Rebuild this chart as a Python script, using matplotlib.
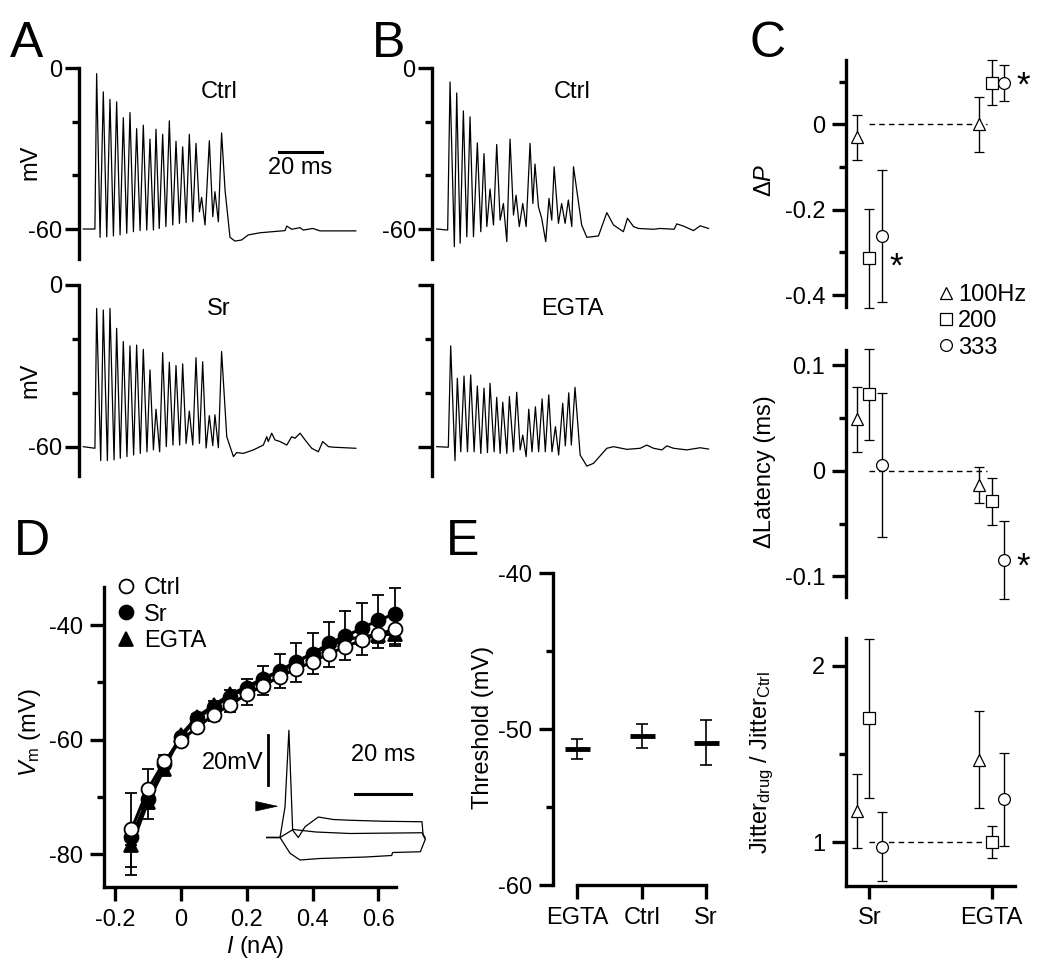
import matplotlib
matplotlib.use("Agg")
import matplotlib.pyplot as plt
from matplotlib.lines import Line2D
import numpy as np

plt.rcParams["font.family"] = ["Liberation Sans", "DejaVu Sans"]
plt.rcParams["mathtext.fontset"] = "custom"
plt.rcParams["mathtext.rm"] = "Liberation Sans"
plt.rcParams["mathtext.it"] = "Liberation Sans:italic"
plt.rcParams["axes.unicode_minus"] = False
plt.rcParams["font.size"] = 17

W, H = 1050, 975
FS = 17

# ---- A / B : spike trains (time ms, membrane potential mV)
a_ctrl_t = [0, 5.4, 6.2, 7.8, 9.3, 10.9, 12.4, 14.0, 15.5, 17.1, 18.6, 20.2, 21.7, 23.3, 24.8, 26.4,
            27.9, 29.5, 31.0, 32.6, 33.8, 35.3, 36.9, 38.4, 40.0, 41.6, 43.1, 44.7, 46.2, 47.8, 49.3,
            50.9, 52.4, 54.0, 55.0, 56.6, 58.6, 60.2, 61.2, 62.8, 64.3, 65.9, 68.2, 70.5, 73.6, 76.7,
            82.2, 93.8, 94.6, 96.9, 100.8, 102.3, 106.7, 110.1, 126.7]
a_ctrl_v = [-60.0, -60.0, -2.1, -63.1, -8.9, -62.9, -11.7, -62.6, -12.6, -62.2, -18.5, -61.6, -16.6,
            -61.0, -22.6, -60.6, -21.3, -60.4, -26.5, -60.4, -22.8, -59.8, -24.7, -59.1, -19.7, -58.5,
            -27.3, -57.9, -29.4, -57.6, -24.7, -57.3, -28.1, -53.6, -48.2, -58.5, -27.1, -55.4, -46.1,
            -57.3, -24.2, -45.5, -63.1, -64.5, -64.1, -62.2, -61.4, -60.6, -58.9, -60.1, -59.5, -60.4,
            -59.8, -60.7, -60.7]

a_sr_t = [0, 5.4, 6.2, 8.1, 9.3, 11.2, 12.4, 14.3, 15.5, 17.2, 18.6, 20.3, 21.7, 23.4, 24.8, 26.5,
          27.9, 29.6, 31.0, 32.6, 33.8, 35.5, 36.9, 38.6, 40.0, 41.7, 43.1, 44.8, 46.2, 47.8, 49.3,
          50.9, 52.4, 54.0, 55.5, 57.1, 58.6, 60.2, 61.2, 62.8, 64.3, 66.7, 69.8, 71.3, 74.4, 79.1,
          82.2, 83.7, 85.3, 86.0, 87.6, 89.1, 91.5, 94.6, 96.9, 98.4, 100.8, 103.1, 106.2, 109.3,
          111.3, 114.0, 116.3, 126.7]
a_sr_v = [-60.0, -60.6, -8.7, -65.2, -9.3, -65.2, -8.7, -64.9, -16.1, -64.3, -21.0, -63.7, -22.6,
          -63.1, -22.3, -62.5, -23.9, -61.9, -31.5, -61.2, -46.1, -61.9, -25.1, -60.0, -28.7, -59.4,
          -29.9, -59.4, -29.3, -58.8, -46.8, -59.4, -27.0, -58.8, -28.5, -60.5, -48.5, -59.6, -48.2,
          -60.4, -24.7, -56.3, -63.7, -62.2, -62.5, -61.2, -60.0, -59.4, -56.3, -58.1, -55.0, -57.5,
          -58.1, -59.4, -56.3, -56.9, -55.0, -57.5, -60.6, -61.9, -58.1, -60.0, -60.2, -60.6]

b_ctrl_t = [0, 5.1, 6.2, 8.2, 9.3, 10.9, 12.4, 14.0, 15.5, 17.1, 18.9, 20.5, 22.0, 23.3, 24.8, 26.4,
            27.9, 29.5, 31.0, 32.6, 34.1, 35.7, 36.9, 38.4, 40.0, 41.6, 43.4, 44.7, 45.7, 47.3, 48.8,
            50.7, 52.2, 53.5, 54.6, 56.6, 58.1, 59.7, 61.2, 62.8, 63.6, 67.4, 69.8, 75.2, 79.1, 82.2,
            86.8, 88.7, 91.5, 93.8, 100.8, 103.9, 110.4, 111.6, 114.7, 119.4, 122.5, 126.4]
b_ctrl_v = [-60.0, -60.4, -5.2, -66.6, -9.3, -65.3, -16.0, -62.9, -18.2, -62.9, -27.9, -61.0, -31.9,
            -59.1, -45.1, -58.5, -28.5, -56.7, -50.5, -64.7, -26.5, -54.8, -47.4, -59.1, -50.5, -59.1,
            -28.1, -50.5, -35.8, -51.7, -56.0, -64.7, -48.6, -56.7, -36.8, -57.9, -50.5, -57.9, -49.2,
            -59.1, -36.8, -58.5, -63.1, -62.6, -53.9, -58.5, -61.0, -56.0, -59.1, -59.8, -60.1, -59.8,
            -60.1, -58.1, -58.9, -60.6, -58.8, -59.8]

b_egta_t = [0, 5.4, 6.5, 8.5, 9.6, 11.2, 12.7, 14.3, 15.8, 17.4, 18.9, 20.5, 22.0, 23.6, 24.8, 26.7,
            27.9, 29.5, 30.7, 32.6, 33.8, 35.7, 37.2, 38.8, 40.0, 41.6, 42.8, 44.3, 45.9, 47.4, 49.0,
            50.5, 52.1, 53.6, 55.2, 56.7, 58.6, 59.8, 61.4, 62.6, 64.3, 66.7, 69.8, 72.9, 79.1, 82.2,
            88.4, 94.6, 97.7, 100.8, 104.7, 107.0, 110.1, 116.3, 122.5, 126.4]
b_egta_v = [-60.0, -60.2, -22.6, -65.2, -34.6, -61.9, -33.8, -61.9, -33.4, -61.9, -37.5, -62.5, -38.3,
            -62.2, -36.5, -61.9, -41.7, -62.5, -43.5, -62.5, -41.4, -61.9, -39.8, -61.2, -55.7, -63.7,
            -46.1, -61.9, -45.2, -61.9, -42.3, -61.9, -40.8, -61.9, -52.6, -63.1, -43.9, -59.7, -40.0,
            -59.4, -38.0, -63.1, -67.2, -66.2, -60.6, -60.0, -61.0, -60.6, -59.4, -60.6, -61.2, -59.7,
            -60.6, -61.2, -60.4, -60.9]

# ---- C : changes relative to control, [Sr, EGTA]
c_groups = ["Sr", "EGTA"]
freq_labels = ["100Hz", "200", "333"]
dp_100, dp_100_err = [-0.030, 0.000], [0.053, 0.064]
dp_200, dp_200_err = [-0.314, 0.098], [0.115, 0.053]
dp_333, dp_333_err = [-0.261, 0.098], [0.155, 0.042]
lat_100, lat_100_err = [0.0486, -0.0137], [0.031, 0.017]
lat_200, lat_200_err = [0.0725, -0.0290], [0.043, 0.022]
lat_333, lat_333_err = [0.0054, -0.0847], [0.068, 0.037]
jit_100, jit_100_err = [1.179, 1.466], [0.210, 0.275]
jit_200, jit_200_err = [1.702, 1.000], [0.450, 0.092]
jit_333, jit_333_err = [0.975, 1.243], [0.197, 0.265]

# ---- D : V-I relation
d_current = [-0.15, -0.10, -0.05, 0.00, 0.05, 0.10, 0.15, 0.20, 0.25, 0.30, 0.35, 0.40, 0.45, 0.50,
             0.55, 0.60, 0.65]
d_ctrl = [-75.7, -68.7, -63.8, -60.2, -57.8, -55.7, -53.9, -52.1, -50.6, -49.0, -47.7, -46.4, -45.0,
          -43.8, -42.6, -41.6, -40.7]
d_ctrl_err = [6.5, 3.5, 1.0, 0.5, 0.8, 1.0, 1.3, 1.8, 1.7, 2.0, 2.2, 2.2, 2.3, 2.3, 2.6, 2.4, 3.0]
d_sr = [-77.0, -70.3, -64.2, -59.5, -56.3, -54.3, -52.5, -51.0, -49.5, -48.0, -46.4, -45.0, -43.2,
        -41.9, -40.6, -39.1, -38.1]
d_sr_err = [7.7, 5.1, 1.5, 0.5, 0.8, 1.0, 1.2, 1.5, 2.4, 2.9, 3.3, 3.6, 3.8, 4.3, 4.5, 4.4, 4.6]
d_egta = [-78.5, -70.9, -65.1, -59.2, -56.0, -54.0, -52.1, -50.8, -49.3, -48.0, -46.4, -45.0, -43.6,
          -42.6, -42.0, -41.7, -41.6]
d_egta_err = [5.2, 2.9, 0.8, 0.5, 0.6, 0.8, 1.0, 1.0, 1.2, 1.3, 1.3, 1.4, 1.5, 1.5, 1.5, 1.5, 1.7]

# inset: three voltage responses (ms, mV relative to rest)
ins_spike_t = [0, 4.8, 6.6, 8.0, 9.35, 11.4, 13.8, 18.6, 23.9, 30.0, 41.8, 55.9, 56.3, 57.0]
ins_spike_v = [0, 0, 12.2, 42.9, 2.9, 0, 4.3, 8.2, 7.2, 6.9, 6.5, 6.3, 0.9, -0.5]
ins_sub_t = [0, 4.8, 9.5, 17.7, 30.0, 55.9, 57.0]
ins_sub_v = [0, 0, 3.2, 2.2, 1.6, 1.9, 0]
ins_hyp_t = [0, 4.8, 8.4, 12.0, 19.2, 35.7, 45.0, 45.3, 55.3, 57.1]
ins_hyp_v = [0, 0, -6.3, -9.0, -8.4, -7.8, -7.2, -6.0, -5.7, -0.7]

# ---- E : spike threshold
e_groups = ["EGTA", "Ctrl", "Sr"]
e_mean = [-51.28, -50.43, -50.86]
e_err = [0.66, 0.75, 1.47]


def add_ax(fig, left, top, right, bottom):
    """Axes placed by its pixel box (origin top-left)."""
    ax = fig.add_axes([left / W, 1 - bottom / H, (right - left) / W, (bottom - top) / H])
    ax.patch.set_visible(False)
    return ax


def fxy(px, py):
    return px / W, 1 - py / H


def style_trace(ax, labels=True):
    for s in ["top", "right", "bottom"]:
        ax.spines[s].set_visible(False)
    ax.spines["left"].set_linewidth(2.4)
    ax.spines["left"].set_bounds(-71, 0)
    ax.set_xticks([])
    ax.set_yticks([-60, 0])
    ax.set_yticks([-40, -20], minor=True)
    ax.set_yticklabels(["-60", "0"] if labels else [])
    ax.tick_params(axis="y", which="major", length=10, width=2.4, pad=2)
    ax.tick_params(axis="y", which="minor", length=5, width=2.4)
    ax.set_xlim(-2, 133.3)
    ax.set_ylim(-72, 5)


fig = plt.figure(figsize=(10.5, 9.75), dpi=100)

trace_boxes = [
    ((79, 54.6, 370, 261.2), a_ctrl_t, a_ctrl_v, "Ctrl", True, True),
    ((79, 271.5, 370, 479), a_sr_t, a_sr_v, "Sr", True, True),
    ((432.4, 54.6, 723.4, 261.2), b_ctrl_t, b_ctrl_v, "Ctrl", True, False),
    ((432.4, 271.5, 723.4, 479), b_egta_t, b_egta_v, "EGTA", False, False),
]
trace_axes = []
for box, t, v, name, labels, mv in trace_boxes:
    ax = add_ax(fig, *box)
    ax.plot(t, v, color="black", lw=0.9)
    style_trace(ax, labels)
    ax.text(63, -9, name, ha="center", va="center", fontsize=FS)
    if mv:
        ax.set_ylabel("mV", fontsize=FS, va="center")
        ax.yaxis.set_label_coords(*fxy(30, 162 if box[1] < 100 else 380), transform=fig.transFigure)
    trace_axes.append(ax)

# 20 ms scale bar (panel A)
ax = trace_axes[0]
ax.plot([91, 111], [-31.3, -31.3], color="black", lw=2.2)
ax.text(101, -37.3, "20 ms", ha="center", va="center", fontsize=FS)

# ---- C
c_x = np.arange(len(c_groups))
c_markers = ["^", "s", "o"]
c_offsets = [-0.1, 0.0, 0.1]
c_sets = [
    ((846, 60, 1015, 306.7), (-0.427, 0.151), [dp_100, dp_200, dp_333],
     [dp_100_err, dp_200_err, dp_333_err], 0.0,
     [-0.4, -0.2, 0], ["-0.4", "-0.2", "0"], [-0.3, -0.1, 0.1]),
    ((846, 350, 1015, 596.7), (-0.1192, 0.1142), [lat_100, lat_200, lat_333],
     [lat_100_err, lat_200_err, lat_333_err], 0.0,
     [-0.1, 0, 0.1], ["-0.1", "0", "0.1"], [-0.05, 0.05]),
    ((846, 638.3, 1015, 886), (0.752, 2.155), [jit_100, jit_200, jit_333],
     [jit_100_err, jit_200_err, jit_333_err], 1.0,
     [1, 2], ["1", "2"], [1.5]),
]
c_axes = []
for i, (box, ylim, means, errs, ref, ticks, tlabels, minor) in enumerate(c_sets):
    ax = add_ax(fig, *box)
    ax.plot([0, 0.96], [ref, ref], color="black", lw=1.0, ls=(0, (4, 3)), zorder=1)
    for m, off, mean, err in zip(c_markers, c_offsets, means, errs):
        ax.errorbar(c_x + off, mean, yerr=err, fmt=m, ms=9 if m == "^" else 8.5, mfc="white",
                    mec="black", mew=0.9, ecolor="black", elinewidth=1.0, capsize=3.5,
                    capthick=1.0, clip_on=False, zorder=3)
    ax.set_xlim(-0.19, 1.19)
    ax.set_ylim(*ylim)
    for s in ["top", "right"]:
        ax.spines[s].set_visible(False)
    ax.spines["left"].set_linewidth(2.4)
    ax.set_yticks(ticks)
    ax.set_yticklabels(tlabels)
    ax.set_yticks(minor, minor=True)
    ax.tick_params(axis="y", which="major", length=10, width=2.4, pad=5)
    ax.tick_params(axis="y", which="minor", length=5, width=2.4)
    if i < 2:
        ax.spines["bottom"].set_visible(False)
        ax.set_xticks([])
    else:
        ax.spines["bottom"].set_linewidth(2.4)
        ax.set_xticks(c_x)
        ax.set_xticklabels(c_groups)
        ax.tick_params(axis="x", length=9, width=2.4, pad=6)
    c_axes.append(ax)

c_axes[0].set_ylabel("Δ$P$", fontsize=FS, va="center")
c_axes[0].yaxis.set_label_coords(*fxy(765, 180), transform=fig.transFigure)
c_axes[1].set_ylabel("ΔLatency (ms)", fontsize=FS, va="center")
c_axes[1].yaxis.set_label_coords(*fxy(765, 472), transform=fig.transFigure)
c_axes[2].set_ylabel(r"Jitter$_{\rm drug}$ / Jitter$_{\rm Ctrl}$", fontsize=FS, va="center")
c_axes[2].yaxis.set_label_coords(*fxy(762, 763), transform=fig.transFigure)

c_axes[0].text(0.22, -0.3335, "*", ha="center", va="center", fontsize=25)
c_axes[0].text(1.258, 0.0897, "*", ha="center", va="center", fontsize=25, clip_on=False)
c_axes[1].text(1.258, -0.0914, "*", ha="center", va="center", fontsize=25, clip_on=False)

c_handles = [Line2D([], [], marker=m, ls="none", ms=9 if m == "^" else 8.5, mfc="white",
                    mec="black", mew=0.9) for m in c_markers]
c_axes[0].legend(c_handles, freq_labels, loc="upper left", bbox_to_anchor=fxy(938, 284),
                 bbox_transform=fig.transFigure, frameon=False, fontsize=FS, handlelength=0.7,
                 handletextpad=0.15, labelspacing=0.18, borderaxespad=0, borderpad=0)

# ---- D
axd = add_ax(fig, 104.3, 586.7, 396.5, 886.7)
d_series = [
    (d_egta, d_egta_err, "^", "black", "EGTA", (True, False)),
    (d_sr, d_sr_err, "o", "black", "Sr", (False, True)),
    (d_ctrl, d_ctrl_err, "o", "white", "Ctrl", (True, False)),
]
for vals, err, m, fc, name, (lo, up) in d_series:
    ev = np.array(err)
    yerr = [ev if lo else np.zeros_like(ev), ev if up else np.zeros_like(ev)]
    axd.errorbar(d_current, vals, yerr=yerr, fmt="none", ecolor="black", elinewidth=1.3,
                 capsize=4.5, capthick=1.3, clip_on=False, zorder=2)
    axd.plot(d_current, vals, color="black", lw=2.2, marker=m, ms=10 if m == "o" else 10.5,
             mfc=fc, mec="black", mew=1.3, clip_on=False, zorder=3, label=name)
axd.set_xlim(-0.2325, 0.655)
axd.set_ylim(-85.7, -33.3)
for s in ["top", "right"]:
    axd.spines[s].set_visible(False)
for s in ["left", "bottom"]:
    axd.spines[s].set_linewidth(2.4)
axd.set_xticks([-0.2, 0, 0.2, 0.4, 0.6])
axd.set_xticklabels(["-0.2", "0", "0.2", "0.4", "0.6"])
axd.set_yticks([-80, -60, -40])
axd.set_yticklabels(["-80", "-60", "-40"])
axd.set_yticks([-70, -50], minor=True)
axd.tick_params(axis="both", which="major", length=10, width=2.4, pad=5)
axd.tick_params(axis="x", pad=6)
axd.tick_params(axis="y", which="minor", length=5, width=2.4)
axd.set_xlabel("$I$ (nA)", fontsize=FS)
axd.xaxis.set_label_coords(*fxy(255, 947), transform=fig.transFigure)
axd.xaxis.label.set_va("center")
axd.set_ylabel("$V_{\\rm m}$ (mV)", fontsize=FS, va="center")
axd.yaxis.set_label_coords(*fxy(30, 733), transform=fig.transFigure)
handles, labels = axd.get_legend_handles_labels()
axd.legend(handles[::-1], labels[::-1], loc="upper left", bbox_to_anchor=fxy(117, 577),
           bbox_transform=fig.transFigure, frameon=False, fontsize=FS, handlelength=0.8,
           handletextpad=0.35, labelspacing=0.2, borderaxespad=0, borderpad=0)
for h in axd.get_legend().legend_handles:
    h.set_linestyle("none")

# inset with example responses and scale bars
axi = add_ax(fig, 255, 720, 432, 870)
for t, v in [(ins_spike_t, ins_spike_v), (ins_sub_t, ins_sub_v), (ins_hyp_t, ins_hyp_v)]:
    axi.plot(t, v, color="black", lw=0.9)
axi.set_xlim(-4.2, 59.5)
axi.set_ylim(-13, 47)
axi.axis("off")
axi.plot([0.6, 0.6], [20.9, 40.9], color="black", lw=2.0)
axi.plot([31.8, 51.8], [17.6, 17.6], color="black", lw=2.2)
axi.text(-1.2, 29.7, "20mV", ha="right", va="center", fontsize=FS, clip_on=False)
axi.text(41.8, 32.9, "20 ms", ha="center", va="center", fontsize=FS)
axi.annotate("", xy=(4.3, 12.5), xytext=(-2.4, 12.5),
             arrowprops=dict(arrowstyle="-|>,head_length=0.9,head_width=0.2", color="black",
                             lw=0.5, shrinkA=0, shrinkB=0))

# ---- E
axe = add_ax(fig, 553.3, 573.3, 731.9, 885)
e_x = np.arange(len(e_groups))
axe.errorbar(e_x, e_mean, yerr=e_err, fmt="none", ecolor="black", elinewidth=1.2, capsize=4,
             capthick=1.2)
axe.plot(e_x, e_mean, ls="none", marker="_", ms=18, mew=3.5, color="black")
axe.set_xlim(-0.373, 2.4)
axe.set_ylim(-60, -40)
for s in ["top", "right"]:
    axe.spines[s].set_visible(False)
for s in ["left", "bottom"]:
    axe.spines[s].set_linewidth(2.4)
axe.spines["bottom"].set_bounds(0, 2)
axe.set_xticks(e_x)
axe.set_xticklabels(e_groups)
axe.set_yticks([-60, -50, -40])
axe.set_yticklabels(["-60", "-50", "-40"])
axe.set_yticks([-55, -45], minor=True)
axe.tick_params(axis="both", which="major", length=10, width=2.4, pad=5)
axe.tick_params(axis="x", pad=6)
axe.tick_params(axis="y", which="minor", length=5, width=2.4)
axe.set_ylabel("Threshold (mV)", fontsize=FS, va="center")
axe.yaxis.set_label_coords(*fxy(483, 727), transform=fig.transFigure)

# panel letters
for letter, px, py in [("A", 10, 57), ("B", 372, 57), ("C", 750, 57), ("D", 14, 555),
                       ("E", 446, 555)]:
    fig.text(*fxy(px, py), letter, fontsize=36, ha="left", va="baseline")

fig.savefig("out.png", dpi=100)
